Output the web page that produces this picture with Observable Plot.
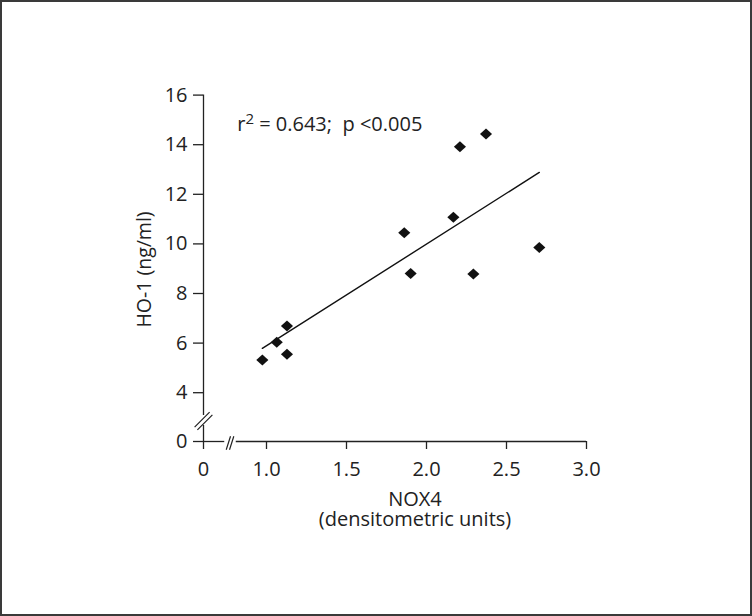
<!DOCTYPE html>
<html><head><meta charset="utf-8">
<script src="https://cdn.jsdelivr.net/npm/d3@7"></script>
<script src="https://cdn.jsdelivr.net/npm/@observablehq/plot@0.6"></script>
<style>
html,body{margin:0;padding:0;background:#fff;}
#chart{position:relative;width:752px;height:616px;overflow:hidden;}
#chart svg{display:block;}
#border{position:absolute;left:0;top:0;width:752px;height:616px;box-sizing:border-box;border:2px solid #3a3a3a;pointer-events:none;}
</style></head><body>
<div id="chart"><div id="border"></div></div>
<script>
// Data
const nox4 = [0.974, 1.064, 1.128, 1.128, 1.861, 1.901, 2.168, 2.209, 2.372, 2.293, 2.705];
const ho1  = [5.32, 6.03, 6.69, 5.55, 10.45, 8.81, 11.07, 13.92, 14.43, 8.79, 9.85];
const xTicks = [0, 1, 1.5, 2, 2.5, 3];
const yTicks = [0, 4, 6, 8, 10, 12, 14, 16];
const statsParts = ["r", "2", " = 0.643;  p <0.005"];
const xTitle = ["NOX4", "(densitometric units)"];
const yTitle = "HO-1 (ng/ml)";
const yBreak = [2.86];   // axis break position on y (data units)
const xBreak = [0.772];  // axis break position on x (data units)

const points = nox4.map((x, i) => ({x, y: ho1[i]}));
const ink = "#222";

const diamond = {
  draw(ctx, size) {
    const r = Math.sqrt(size / Math.PI);
    const hw = r * 1.1, hh = r;
    ctx.moveTo(0, -hh); ctx.lineTo(hw, 0); ctx.lineTo(0, hh); ctx.lineTo(-hw, 0); ctx.closePath();
  }
};
const ySlash = {
  draw(ctx) {
    for (const o of [-1.4, 1.4]) { ctx.moveTo(-7.5 + o, 7.5 + o); ctx.lineTo(7.5 + o, -7.5 + o); }
  }
};
const xSlash = {
  draw(ctx) {
    for (const o of [-1.65, 1.65]) { ctx.moveTo(-2.15 + o, 8.2); ctx.lineTo(2.15 + o, -5.2); }
  }
};

const plot = Plot.plot({
  width: 752,
  height: 616,
  marginLeft: 203,
  marginRight: 166,
  marginTop: 95,
  marginBottom: 175,
  style: {fontFamily: "'Open Sans', sans-serif", fontSize: "20px", color: ink, background: "transparent"},
  x: {type: "linear", domain: [0, 0.7, 3], range: [203, 218, 586]},
  y: {type: "linear", domain: [0, 2.5, 16], range: [441, 429.4, 94.6]},
  marks: [
    // axis lines with breaks
    Plot.ruleX([0], {y1: 0, y2: 2.68, stroke: ink, strokeWidth: 1.3}),
    Plot.ruleX([0], {y1: 3.08, y2: 16, stroke: ink, strokeWidth: 1.3}),
    Plot.ruleY([0], {x1: 0, x2: 0.739, stroke: ink, strokeWidth: 1.3}),
    Plot.ruleY([0], {x1: 0.811, x2: 3, stroke: ink, strokeWidth: 1.3}),
    Plot.dot(yBreak, {x: () => 0, y: d => d, symbol: ySlash, r: 5, fill: "none", stroke: ink, strokeWidth: 1.2}),
    Plot.dot(xBreak, {x: d => d, y: () => 0, symbol: xSlash, r: 5, fill: "none", stroke: ink, strokeWidth: 1.2}),
    Plot.axisY({ticks: yTicks, tickSize: 10, tickPadding: 6, label: null, stroke: ink, strokeWidth: 1.3, fill: ink, fontSize: 20}),
    Plot.axisX({ticks: xTicks, tickSize: 8, tickPadding: 12, label: null, stroke: ink, strokeWidth: 1.3, fill: ink, fontSize: 20,
      tickFormat: d => d === 0 ? "0" : d.toFixed(1)}),
    // titles
    Plot.text([yTitle], {frameAnchor: "left", rotate: -90, textAnchor: "middle", lineAnchor: "bottom", dx: -52.5, dy: 1, fill: ink, fontSize: 19.5}),
    Plot.text([xTitle[0]], {frameAnchor: "bottom", textAnchor: "middle", lineAnchor: "bottom", dx: 20, dy: 64.5, fill: ink, fontSize: 20}),
    Plot.text([xTitle[1]], {frameAnchor: "bottom", textAnchor: "middle", lineAnchor: "bottom", dx: 20, dy: 84.5, fill: ink, fontSize: 20}),
    // regression line and points
    Plot.linearRegressionY(points, {x: "x", y: "y", ci: 0, stroke: "#111", strokeWidth: 1.4}),
    Plot.dot(points, {x: "x", y: "y", symbol: diamond, r: 5.5, fill: "#111", stroke: "none"}),
    // statistics annotation
    Plot.text([statsParts.join("")], {x: () => 0.817, y: () => 14.55, textAnchor: "start", lineAnchor: "bottom", fill: ink, fontSize: 20, className: "stats"})
  ]
});

document.getElementById("chart").insertBefore(plot, document.getElementById("border"));

// Render the superscript in the statistics annotation as real text tspans
const t = d3.select(plot).select("g.stats text");
t.text(null).style("white-space", "pre");
t.append("tspan").text(statsParts[0]);
t.append("tspan").attr("dy", -7.5).style("font-size", "15px").text(statsParts[1]);
t.append("tspan").attr("dy", 7.5).text(statsParts[2]);
</script>
</body></html>
